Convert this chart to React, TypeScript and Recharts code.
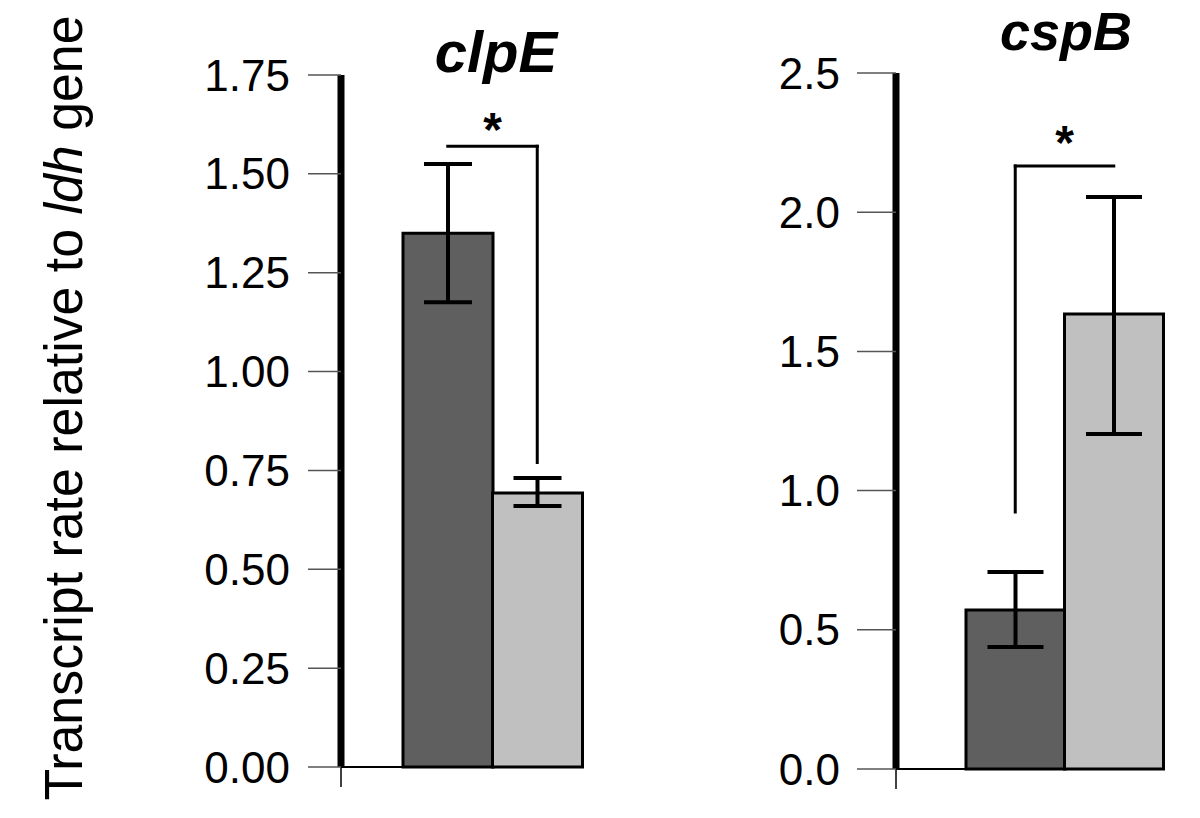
import { Bar, BarChart, Cell, ErrorBar, ReferenceLine, XAxis, YAxis } from "recharts";

const FONT = "'Liberation Sans', Arial, sans-serif";

// two strains / conditions per gene (no category labels in the figure)
const GROUPS = ["strain1", "strain2"];
const BAR_FILLS = ["#5f5f5f", "#c0c0c0"];

const CLPE_MEAN = [1.35, 0.693];
const CLPE_ERR_LOW = [0.175, 0.033];
const CLPE_ERR_HIGH = [0.175, 0.038];
const CLPE_TICKS = [0, 0.25, 0.5, 0.75, 1, 1.25, 1.5, 1.75];

const CSPB_MEAN = [0.571, 1.634];
const CSPB_ERR_LOW = [0.133, 0.431];
const CSPB_ERR_HIGH = [0.137, 0.421];
const CSPB_TICKS = [0, 0.5, 1, 1.5, 2, 2.5];

// significance brackets: bar level, and where the leg stops
const CLPE_SIG_Y = 1.57;
const CLPE_SIG_DROP = 0.77;
const CSPB_SIG_Y = 2.166;
const CSPB_SIG_DROP = 0.923;

type Row = { group: string; value: number; err: [number, number] };

const toRows = (mean: number[], low: number[], high: number[]): Row[] =>
  GROUPS.map((group, i) => ({ group, value: mean[i], err: [low[i], high[i]] }));

type Layout = {
  margin: { top: number; right: number; bottom: number; left: number };
  yWidth: number;
  padLeft: number;
  tickSize: number;
  tickMargin: number;
  cap: number;
  starOffset: number;
};

type Sig = { y: number; drop: number; legIndex: number };

const LEFT_LAYOUT: Layout = {
  margin: { top: 75, right: 18, bottom: 21, left: 0 },
  yWidth: 341,
  padLeft: 62,
  tickSize: 33,
  tickMargin: 18,
  cap: 24,
  starOffset: 0,
};

const RIGHT_LAYOUT: Layout = {
  margin: { top: 73, right: 37, bottom: 19, left: 0 },
  yWidth: 296,
  padLeft: 70,
  tickSize: 39,
  tickMargin: 17,
  cap: 28,
  starOffset: 7,
};

const LINE = { stroke: "#000", strokeWidth: 3, strokeLinecap: "square" as const };

function GenePanel({
  rows,
  ticks,
  digits,
  layout,
  sig,
}: {
  rows: Row[];
  ticks: number[];
  digits: number;
  layout: Layout;
  sig: Sig;
}) {
  const leg = GROUPS[sig.legIndex];
  return (
    <BarChart
      width={600}
      height={818}
      data={rows}
      margin={layout.margin}
      barCategoryGap={0}
    >
      <XAxis dataKey="group" hide height={0} padding={{ left: layout.padLeft, right: 0 }} />
      <XAxis
        xAxisId="edge"
        type="number"
        domain={[0, 1]}
        ticks={[0]}
        height={30}
        axisLine={{ stroke: "#000", strokeWidth: 2 }}
        tickLine={{ stroke: "#000", strokeWidth: 1.5 }}
        tickSize={20}
        tickFormatter={() => ""}
      />
      <YAxis
        width={layout.yWidth}
        domain={[0, ticks[ticks.length - 1]]}
        ticks={ticks}
        interval={0}
        tickFormatter={(v: number) => v.toFixed(digits)}
        axisLine={{ stroke: "#000", strokeWidth: 7 }}
        tickLine={{ stroke: "#555", strokeWidth: 1.5 }}
        tickSize={layout.tickSize}
        tickMargin={layout.tickMargin}
        tick={{ fill: "#000", fontSize: 44, fontFamily: FONT }}
      />
      <Bar dataKey="value" stroke="#000" strokeWidth={3} isAnimationActive={false}>
        {rows.map((r, i) => (
          <Cell key={r.group} fill={BAR_FILLS[i]} />
        ))}
        <ErrorBar
          dataKey="err"
          direction="y"
          width={layout.cap}
          stroke="#000"
          strokeWidth={4}
          isAnimationActive={false}
        />
      </Bar>
      <ReferenceLine
        segment={[
          { x: GROUPS[0], y: sig.y },
          { x: GROUPS[1], y: sig.y },
        ]}
        {...LINE}
        ifOverflow="visible"
        label={{
          value: "*",
          position: "top",
          offset: layout.starOffset,
          fontSize: 48,
          fontWeight: "bold",
          fill: "#000",
          fontFamily: FONT,
        }}
      />
      <ReferenceLine
        segment={[
          { x: leg, y: sig.y },
          { x: leg, y: sig.drop },
        ]}
        {...LINE}
        ifOverflow="visible"
      />
    </BarChart>
  );
}

export default function App() {
  return (
    <div
      style={{
        position: "absolute",
        left: 0,
        top: 0,
        width: 1200,
        height: 818,
        background: "#fff",
        fontFamily: FONT,
      }}
    >
      <div style={{ position: "absolute", left: 0, top: 0 }}>
        <GenePanel
          rows={toRows(CLPE_MEAN, CLPE_ERR_LOW, CLPE_ERR_HIGH)}
          ticks={CLPE_TICKS}
          digits={2}
          layout={LEFT_LAYOUT}
          sig={{ y: CLPE_SIG_Y, drop: CLPE_SIG_DROP, legIndex: 1 }}
        />
      </div>
      <div style={{ position: "absolute", left: 600, top: 0 }}>
        <GenePanel
          rows={toRows(CSPB_MEAN, CSPB_ERR_LOW, CSPB_ERR_HIGH)}
          ticks={CSPB_TICKS}
          digits={1}
          layout={RIGHT_LAYOUT}
          sig={{ y: CSPB_SIG_Y, drop: CSPB_SIG_DROP, legIndex: 0 }}
        />
      </div>
      <svg
        width={1200}
        height={818}
        style={{ position: "absolute", left: 0, top: 0, pointerEvents: "none" }}
        fontFamily={FONT}
      >
        <text
          x={82}
          y={408}
          transform="rotate(-90 82 408)"
          textAnchor="middle"
          fontSize={54}
          textLength={785}
          lengthAdjust="spacingAndGlyphs"
          fill="#000"
        >
          Transcript rate relative to <tspan fontStyle="italic">ldh</tspan> gene
        </text>
        <text x={496} y={72} textAnchor="middle" fontSize={58} fontWeight="bold" fontStyle="italic">
          clpE
        </text>
        <text x={1066} y={50} textAnchor="middle" fontSize={54} fontWeight="bold" fontStyle="italic">
          cspB
        </text>
      </svg>
    </div>
  );
}
